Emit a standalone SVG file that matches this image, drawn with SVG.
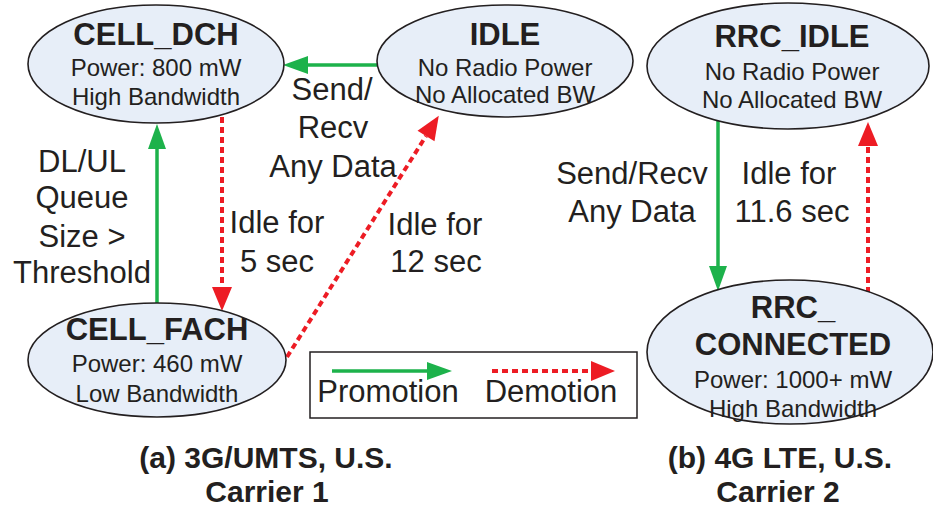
<svg xmlns="http://www.w3.org/2000/svg" width="933" height="510" viewBox="0 0 933 510">
<style>
text{font-family:"Liberation Sans",Arial,sans-serif;fill:#231f20;text-anchor:middle}
.t{font-weight:bold;font-size:31px}
.s{font-size:24px}
.l{font-size:31px}
.c{font-weight:bold;font-size:30px}
ellipse{fill:#e7eef8;stroke:#231f20;stroke-width:1.6}
.g{stroke:#1db24b;stroke-width:3.5;fill:none}
.r{stroke:#ed1c24;stroke-width:4;fill:none;stroke-dasharray:6 4}
</style>
<defs>
<marker id="ag" markerUnits="userSpaceOnUse" markerWidth="26" markerHeight="20" refX="0" refY="9" orient="auto" overflow="visible">
<path d="M0,0 L25,9 L0,18 Z" fill="#1db24b"/>
</marker>
<marker id="ar" markerUnits="userSpaceOnUse" markerWidth="24" markerHeight="20" refX="0" refY="10" orient="auto" overflow="visible">
<path d="M0,0 L24,10 L0,20 Z" fill="#ed1c24"/>
</marker>
</defs>
<g id="connectors">
<line class="g" x1="378" y1="65" x2="308" y2="65" marker-end="url(#ag)"/>
<line class="g" x1="157" y1="303" x2="157" y2="149" marker-end="url(#ag)"/>
<line class="r" x1="222" y1="117" x2="222" y2="287" marker-end="url(#ar)"/>
<line class="r" x1="287" y1="357" x2="426" y2="136" marker-end="url(#ar)"/>
<line class="g" x1="718" y1="121" x2="718" y2="266" marker-end="url(#ag)"/>
<line class="r" x1="868" y1="293" x2="868" y2="146" marker-end="url(#ar)"/>
</g>
<g id="cell_dch">
<ellipse cx="156" cy="64" rx="128" ry="59"/>
<text class="t" x="156" y="45">CELL_DCH</text>
<text class="s" x="156" y="76">Power: 800 mW</text>
<text class="s" x="156" y="105">High Bandwidth</text>
</g>
<g id="idle">
<ellipse cx="505" cy="61" rx="128" ry="56"/>
<text class="t" x="505" y="45">IDLE</text>
<text class="s" x="505" y="76">No Radio Power</text>
<text class="s" x="505" y="103">No Allocated BW</text>
</g>
<g id="cell_fach">
<ellipse cx="157" cy="360" rx="129" ry="57"/>
<text class="t" x="157" y="340">CELL_FACH</text>
<text class="s" x="157" y="372">Power: 460 mW</text>
<text class="s" x="157" y="402">Low Bandwidth</text>
</g>
<g id="rrc_idle">
<ellipse cx="788" cy="66" rx="141" ry="63"/>
<text class="t" x="792" y="47">RRC_IDLE</text>
<text class="s" x="792" y="80">No Radio Power</text>
<text class="s" x="792" y="108">No Allocated BW</text>
</g>
<g id="rrc_connected">
<ellipse cx="790" cy="352" rx="143" ry="72"/>
<text class="t" x="793" y="318">RRC_</text>
<text class="t" x="793" y="355">CONNECTED</text>
<text class="s" x="793" y="388">Power: 1000+ mW</text>
<text class="s" x="793" y="417">High Bandwidth</text>
</g>
<g id="labels">
<text class="l" x="332" y="100">Send/</text>
<text class="l" x="333" y="138">Recv</text>
<text class="l" x="333" y="177">Any Data</text>
<text class="l" x="82" y="172">DL/UL</text>
<text class="l" x="82" y="208">Queue</text>
<text class="l" x="82" y="247">Size &gt;</text>
<text class="l" x="82" y="283">Threshold</text>
<text class="l" x="277" y="233">Idle for</text>
<text class="l" x="277" y="272">5 sec</text>
<text class="l" x="435" y="235">Idle for</text>
<text class="l" x="436" y="272">12 sec</text>
<text class="l" x="632" y="184">Send/Recv</text>
<text class="l" x="632" y="222">Any Data</text>
<text class="l" x="789" y="184">Idle for</text>
<text class="l" x="792" y="222">11.6 sec</text>
</g>
<g id="legend">
<rect x="310" y="352" width="327" height="66" fill="#fff" stroke="#231f20" stroke-width="1.5"/>
<line class="g" x1="332" y1="371" x2="427" y2="371" marker-end="url(#ag)"/>
<line class="r" x1="492" y1="371" x2="591" y2="371" marker-end="url(#ar)"/>
<text class="l" x="388" y="402">Promotion</text>
<text class="l" x="551" y="402">Demotion</text>
</g>
<g id="captions">
<text class="c" x="266" y="468">(a) 3G/UMTS, U.S.</text>
<text class="c" x="267" y="502">Carrier 1</text>
<text class="c" x="780" y="468">(b) 4G LTE, U.S.</text>
<text class="c" x="778" y="502">Carrier 2</text>
</g>
</svg>
